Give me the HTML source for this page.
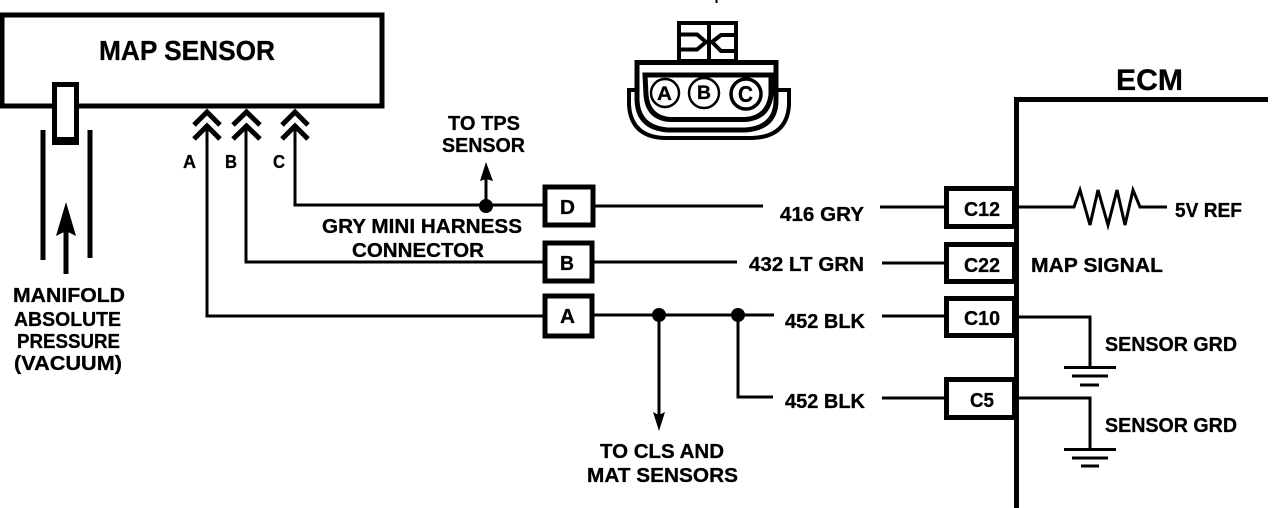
<!DOCTYPE html>
<html><head><meta charset="utf-8"><style>
html,body{margin:0;padding:0;background:#fff}
svg{display:block}
text{font-family:"Liberation Sans",sans-serif;font-weight:bold;fill:#000;font-size:20px;stroke:#000;stroke-width:.3}
.w{fill:none;stroke:#000;stroke-width:3}
.b{fill:#fff;stroke:#000;stroke-width:5}
.t{fill:none;stroke:#000;stroke-width:5}
</style></head><body>
<svg width="1280" height="508" viewBox="0 0 1280 508" xmlns="http://www.w3.org/2000/svg">
<!-- MAP sensor -->
<rect class="b" x="2" y="15" width="380" height="91"/>
<text x="99" y="60" style="font-size:28px" textLength="176" lengthAdjust="spacingAndGlyphs">MAP  SENSOR</text>
<rect x="52" y="82" width="27" height="63" fill="#000"/>
<rect x="57" y="87" width="17" height="50" fill="#fff"/>
<path class="t" d="M43 130V260M90 130V258"/>
<path d="M66 274V225" class="t"/>
<path d="M66 202L76 236L66 231L56 236Z" fill="#000"/>
<g>
<text x="13" y="302" textLength="112" lengthAdjust="spacingAndGlyphs">MANIFOLD</text>
<text x="14" y="326" textLength="107" lengthAdjust="spacingAndGlyphs">ABSOLUTE</text>
<text x="17" y="348" textLength="103" lengthAdjust="spacingAndGlyphs">PRESSURE</text>
<text x="14" y="370" textLength="108" lengthAdjust="spacingAndGlyphs">(VACUUM)</text>
</g>
<!-- chevrons -->
<path d="M194 125L207 112L220 125M194 139L207 126L220 139M233 125L246.500 112L260 125M233 139L246.500 126L260 139M282 125L295 112L308 125M282 139L295 126L308 139" fill="none" stroke="#000" stroke-width="5"/>
<text x="183" y="168" style="font-size:18px" textLength="13" lengthAdjust="spacingAndGlyphs">A</text>
<text x="225" y="168" style="font-size:18px" textLength="12" lengthAdjust="spacingAndGlyphs">B</text>
<text x="273" y="168" style="font-size:18px" textLength="12" lengthAdjust="spacingAndGlyphs">C</text>
<!-- wires to harness connector -->
<path class="w" d="M207 127V316H545M246 127V262H545M295 127V205H545"/>
<circle cx="486" cy="206" r="7"/>
<path d="M486 200V175" class="w"/>
<path d="M486 162L493 181L486 179L480 181Z"/>
<text x="448" y="130" textLength="72" lengthAdjust="spacingAndGlyphs">TO TPS</text>
<text x="442" y="152" textLength="83" lengthAdjust="spacingAndGlyphs">SENSOR</text>
<text x="322" y="233" textLength="200" lengthAdjust="spacingAndGlyphs">GRY MINI HARNESS</text>
<text x="352" y="257" textLength="132" lengthAdjust="spacingAndGlyphs">CONNECTOR</text>
<rect class="b" x="545" y="187" width="48" height="38"/>
<rect class="b" x="545" y="243" width="47" height="38"/>
<rect class="b" x="545" y="296" width="47" height="40"/>
<text x="560" y="214" textLength="15" lengthAdjust="spacingAndGlyphs">D</text>
<text x="560" y="270" textLength="14" lengthAdjust="spacingAndGlyphs">B</text>
<text x="560" y="323" textLength="15" lengthAdjust="spacingAndGlyphs">A</text>
<!-- middle wires -->
<path class="w" d="M595 206H763M880 207H947M594 262H737M882 263H947M594 315H774M882 316H947M882 398H947M659 315V420M738 315V397H773"/>
<circle cx="659" cy="315" r="7"/>
<circle cx="738" cy="315" r="7"/>
<path d="M659 431L665 412L659 415L653 412Z"/>
<text x="780" y="221" textLength="84" lengthAdjust="spacingAndGlyphs">416 GRY</text>
<text x="749" y="271" textLength="115" lengthAdjust="spacingAndGlyphs">432 LT GRN</text>
<text x="785" y="328" textLength="80" lengthAdjust="spacingAndGlyphs">452 BLK</text>
<text x="785" y="408" textLength="80" lengthAdjust="spacingAndGlyphs">452 BLK</text>
<text x="600" y="458" textLength="124" lengthAdjust="spacingAndGlyphs">TO CLS AND</text>
<text x="587" y="482" textLength="151" lengthAdjust="spacingAndGlyphs">MAT SENSORS</text>
<!-- connector drawing -->
<path d="M716.500 0V3" stroke="#000" stroke-width="2"/>
<rect x="679" y="23" width="57" height="38" fill="none" stroke="#000" stroke-width="4"/>
<path d="M709 23V60" stroke="#000" stroke-width="4"/>
<path d="M680 34.500H697L706 42L697 49.500H680M735 35H721L712 42L721 51H735" fill="none" stroke="#000" stroke-width="4"/>
<path d="M637 62.500H776V100Q776 128 745 130H668Q638 128 637 100Z" fill="#fff" stroke="#000" stroke-width="5"/>
<path d="M645 75H771V95Q768 118 745 119.500H670Q648 118 646 95Z" fill="#fff" stroke="#000" stroke-width="5"/>
<path d="M635 90H629V105Q631 137 665 138H752Q787 137 789 105V90H778" fill="none" stroke="#000" stroke-width="4"/>
<circle cx="665" cy="93" r="14" fill="none" stroke="#000" stroke-width="2.500"/>
<circle cx="704" cy="93" r="15" fill="none" stroke="#000" stroke-width="2.500"/>
<circle cx="746" cy="94" r="15" fill="none" stroke="#000" stroke-width="3.500"/>
<text x="657" y="100" style="font-size:19px" textLength="15" lengthAdjust="spacingAndGlyphs">A</text>
<text x="697" y="99" style="font-size:19px" textLength="14" lengthAdjust="spacingAndGlyphs">B</text>
<text x="738" y="102" style="font-size:23px" textLength="15" lengthAdjust="spacingAndGlyphs">C</text>
<!-- ECM -->
<path d="M1016.500 508V99.500H1268" fill="none" stroke="#000" stroke-width="5"/>
<text x="1116" y="90" style="font-size:30px" textLength="67" lengthAdjust="spacingAndGlyphs">ECM</text>
<rect class="b" x="946.500" y="188.500" width="68" height="38"/>
<rect class="b" x="946.500" y="244.500" width="68" height="37"/>
<rect class="b" x="946.500" y="298.500" width="68" height="37"/>
<rect class="b" x="946.500" y="379.500" width="68" height="38"/>
<text x="964" y="216" textLength="36" lengthAdjust="spacingAndGlyphs">C12</text>
<text x="964" y="272" textLength="36" lengthAdjust="spacingAndGlyphs">C22</text>
<text x="964" y="325" textLength="36" lengthAdjust="spacingAndGlyphs">C10</text>
<text x="970" y="407" textLength="24" lengthAdjust="spacingAndGlyphs">C5</text>
<path class="w" d="M1019 207H1074L1080 190L1090 225L1098 190L1108 225L1117 190L1125 225L1133 190L1140 207H1167"/>
<text x="1175" y="217" textLength="67" lengthAdjust="spacingAndGlyphs">5V REF</text>
<text x="1031" y="272" textLength="132" lengthAdjust="spacingAndGlyphs">MAP SIGNAL</text>
<path class="w" d="M1019 317H1090V367M1019 398H1090V449"/>
<path class="w" d="M1064 367.500H1116M1072 376H1108M1080 385H1099M1064 449.500H1116M1072 458H1108M1081 466H1099"/>
<text x="1105" y="351" textLength="132" lengthAdjust="spacingAndGlyphs">SENSOR GRD</text>
<text x="1105" y="432" textLength="132" lengthAdjust="spacingAndGlyphs">SENSOR GRD</text>
</svg>
</body></html>
